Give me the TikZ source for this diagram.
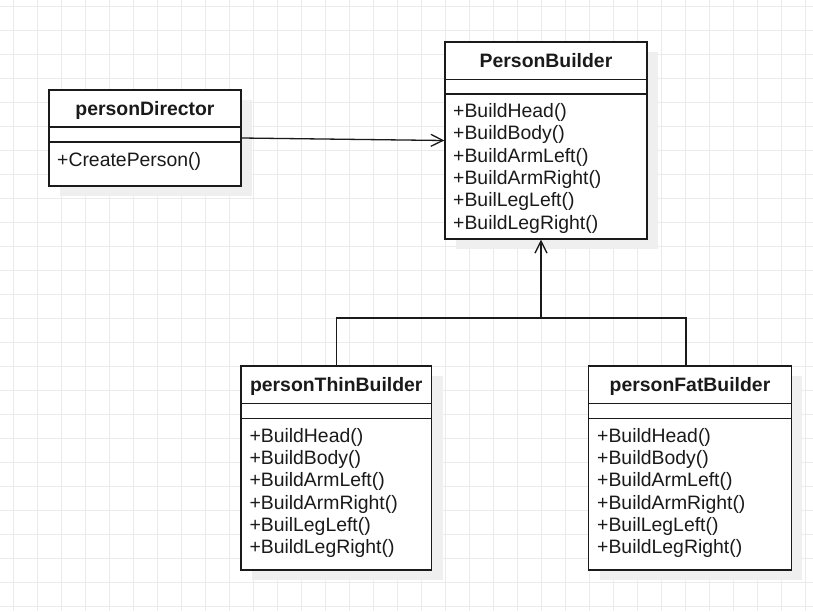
\documentclass[tikz,border=0pt]{standalone}
\usepackage{fontspec}
\setmainfont{Liberation Sans}
\usetikzlibrary{arrows.meta,shadows}
\definecolor{gridc}{HTML}{EBEBEB}
\definecolor{shadc}{HTML}{EFEFEF}
\definecolor{inkc}{HTML}{1A1A1A}
\begin{document}
\begin{tikzpicture}[x=1pt,y=-1pt,
  box/.style={draw=inkc, line width=1.4pt, fill=white, inner sep=0pt,
    drop shadow={shadow xshift=11pt, shadow yshift=-10pt, fill=shadc, opacity=1}},
  ttl/.style={font=\fontsize{19.4}{22.3}\selectfont\bfseries, anchor=base, inner sep=0pt, text=inkc},
  meth/.style={font=\fontsize{19.4}{22.3}\selectfont, anchor=base west, inner sep=0pt, text=inkc},
  divl/.style={line width=1.4pt, draw=inkc},
  conn/.style={line width=1.3pt, draw=inkc},
  oarrow/.style={-{Straight Barb[length=12pt,width=12pt]}}
]
\fill[white] (0,0) rectangle (813,611);
\useasboundingbox (0,0) rectangle (813,611);
\foreach \i in {0,...,33} \draw[gridc, line width=1pt] (13+24*\i,0) -- (13+24*\i,611);
\foreach \j in {0,...,25} \draw[gridc, line width=1pt] (0,6+24*\j) -- (813,6+24*\j);

% personDirector
\node[box, minimum width=192pt, minimum height=96pt] (director) at (145,138) {};
\draw[divl] (49,127) -- (241,127);
\draw[divl] (49,142) -- (241,142);
\node[ttl] (directorT) at (145,115.5) {personDirector};
\node[meth] (directorM) at (57,166) {+CreatePerson()};

% PersonBuilder
\node[box, minimum width=202pt, minimum height=197pt] (pb) at (546,140.5) {};
\draw[divl] (445,79.3) -- (647,79.3);
\draw[divl] (445,94) -- (647,94);
\node[ttl] (pbT) at (546,67.7) {PersonBuilder};
\foreach \t [count=\k from 0] in {+BuildHead(),+BuildBody(),+BuildArmLeft(),+BuildArmRight(),+BuilLegLeft(),+BuildLegRight()}
  \node[meth] (pbM\k) at (453,117.5+22.3*\k) {\t};

% personThinBuilder
\node[box, minimum width=190.5pt, minimum height=204pt] (thin) at (336.25,468) {};
\draw[divl] (241,403.3) -- (431.5,403.3);
\draw[divl] (241,418.7) -- (431.5,418.7);
\node[ttl] (thinT) at (336.25,391.7) {personThinBuilder};
\foreach \t [count=\k from 0] in {+BuildHead(),+BuildBody(),+BuildArmLeft(),+BuildArmRight(),+BuilLegLeft(),+BuildLegRight()}
  \node[meth] (thinM\k) at (249.3,442.2+22.3*\k) {\t};

% personFatBuilder
\node[box, minimum width=202.6pt, minimum height=204pt] (fat) at (690,468) {};
\draw[divl] (588.7,403.3) -- (791.3,403.3);
\draw[divl] (588.7,418.7) -- (791.3,418.7);
\node[ttl] (fatT) at (690,391.7) {personFatBuilder};
\foreach \t [count=\k from 0] in {+BuildHead(),+BuildBody(),+BuildArmLeft(),+BuildArmRight(),+BuilLegLeft(),+BuildLegRight()}
  \node[meth] (fatM\k) at (597,442.2+22.3*\k) {\t};

% connectors
\draw[conn, oarrow] (director.east) -- (pb.west);
\coordinate (j) at (541,318);
\draw[conn, oarrow] (thin.north) |- (j) -- (j |- pb.south);
\draw[conn] ([xshift=-4pt]fat.north) |- (j);
\end{tikzpicture}
\end{document}
